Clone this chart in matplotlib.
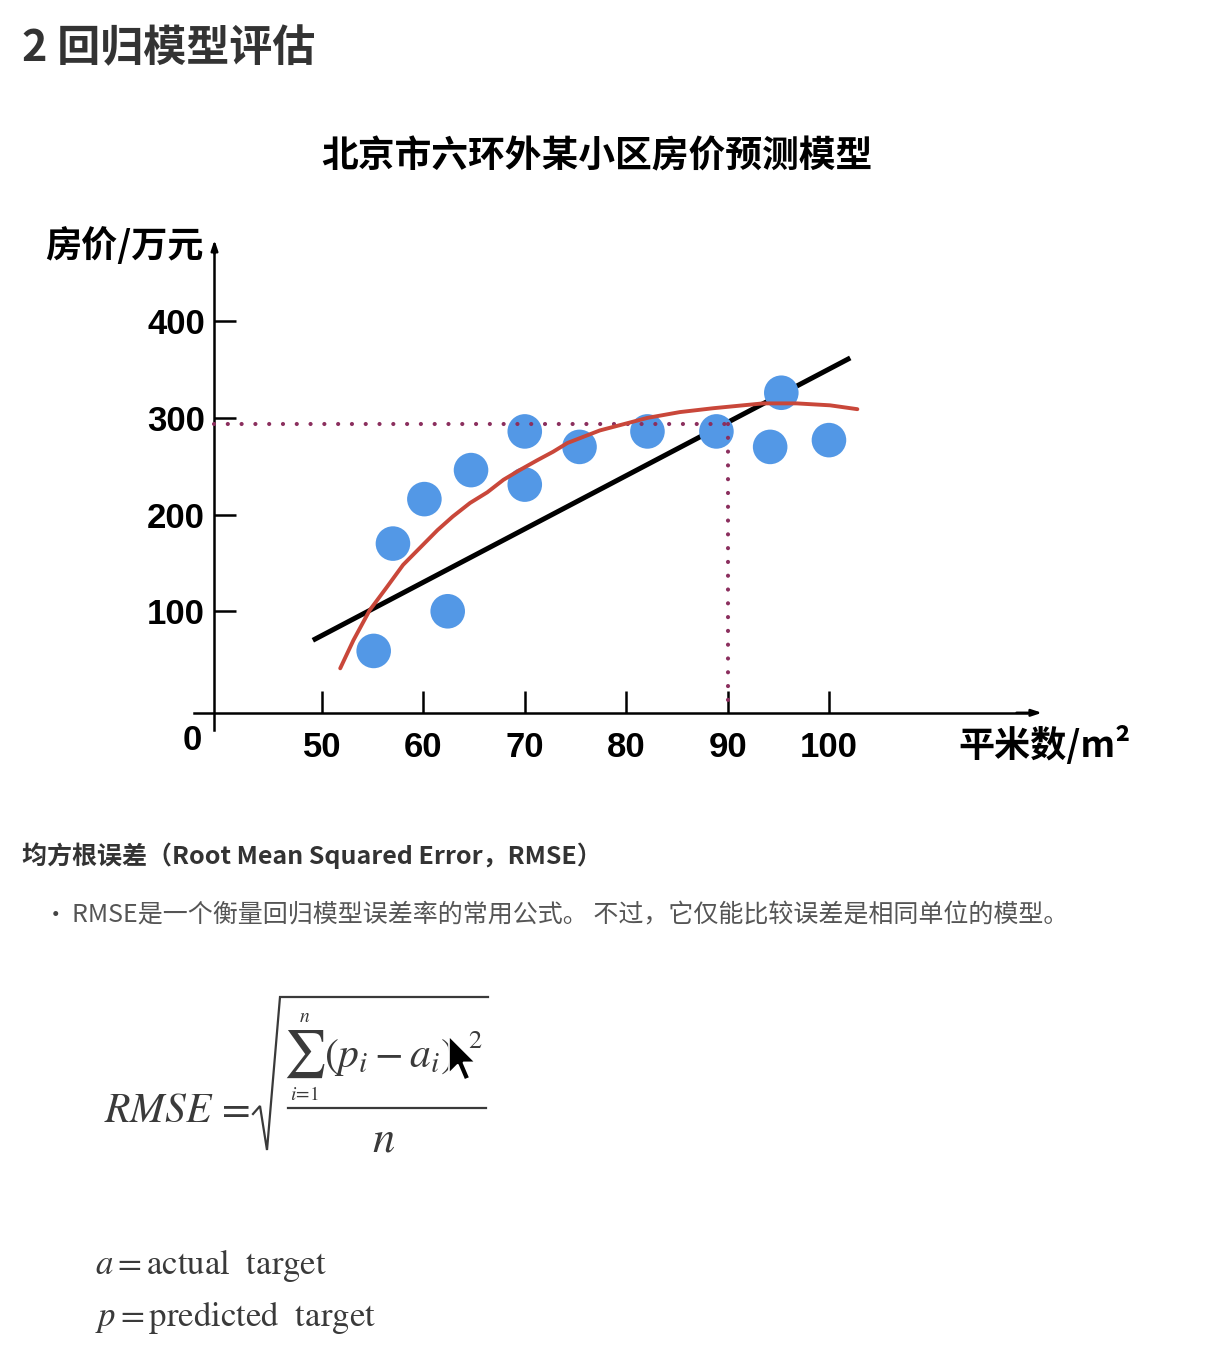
import matplotlib
matplotlib.use("Agg")
from matplotlib import pyplot as plt
from matplotlib.patches import Polygon
from matplotlib.lines import Line2D
import numpy as np

plt.rcParams['font.family'] = ['Noto Sans CJK SC', 'DejaVu Sans']
plt.rcParams['mathtext.fontset'] = 'stix'

# data
area = [55.1, 57.0, 60.1, 62.4, 64.7, 70.0, 70.0, 75.4, 82.1, 88.9, 94.2, 95.3, 100.0]
price = [59, 170, 216, 100, 246, 286, 231, 270, 286, 286, 270, 326, 277]

line_x = [49.1, 102.1]
line_y = [70, 362]

curve_x = [51.8, 53.1, 54.7, 56.4, 58.0, 59.7, 61.4, 62.9, 64.6, 66.3, 67.9, 69.5,
           71.2, 72.8, 74.2, 77.4, 82.1, 85.3, 88.6, 93.5, 96.8, 100.1, 102.8]
curve_y = [41, 70, 101, 125, 148, 166, 184, 198, 212, 223, 236, 246,
           256, 265, 274, 287, 300, 306, 310, 315, 315, 313, 309]

pred_x = 90
pred_y = 294

x_ticks = [50, 60, 70, 80, 90, 100]
y_ticks = [100, 200, 300, 400]

W, H = 1206, 1368
fig = plt.figure(figsize=(W / 100, H / 100), dpi=100)
fig.patch.set_facecolor('white')


def fx(px):
    return px / W


def fy(py):
    return 1 - py / H


ax = fig.add_axes([fx(150), fy(760), fx(1100) - fx(150), fy(230) - fy(760)])
ax.set_xlim(33.04, 126.73)
ax.set_ylim(-53.8, 494.3)
ax.patch.set_alpha(0)

x0, y0 = 39.4, -5
for s in ['top', 'right']:
    ax.spines[s].set_visible(False)
ax.spines['left'].set_position(('data', x0))
ax.spines['bottom'].set_position(('data', y0))
ax.spines['left'].set_bounds(-23, 478)
ax.spines['bottom'].set_bounds(37.4, 119.5)
ax.spines['left'].set_linewidth(1.8)
ax.spines['bottom'].set_linewidth(1.8)

ax.annotate('', xy=(x0, 484), xytext=(x0, 470),
            arrowprops=dict(arrowstyle='-|>,head_length=0.6,head_width=0.2',
                            color='black', lw=1.8, shrinkA=0, shrinkB=0))
ax.annotate('', xy=(121.0, y0), xytext=(118.5, y0),
            arrowprops=dict(arrowstyle='-|>,head_length=0.6,head_width=0.2',
                            color='black', lw=1.8, shrinkA=0, shrinkB=0))

ax.set_xticks(x_ticks)
ax.set_yticks(y_ticks)
ax.tick_params(axis='both', direction='in', length=16, width=1.8)
ax.tick_params(axis='x', pad=13)
ax.tick_params(axis='y', pad=7)
for lab in ax.get_xticklabels() + ax.get_yticklabels():
    lab.set_fontfamily('Liberation Sans')
    lab.set_fontweight('bold')
    lab.set_fontsize(25)

ax.text(38.2, -17, '0', ha='right', va='top', fontsize=25,
        fontfamily='Liberation Sans', fontweight='bold')

dot_style = dict(color='#8B2F5E', lw=3, linestyle=(0, (0.01, 3.3)),
                 dash_capstyle='round', zorder=4)
ax.plot([x0, pred_x], [pred_y, pred_y], **dot_style)
ax.plot([pred_x, pred_x], [pred_y, y0], **dot_style)

ax.plot(line_x, line_y, color='black', lw=3.6, solid_capstyle='butt', zorder=2)
ax.scatter(area, price, s=620, color='#5398E6', edgecolors='none', zorder=3)
ax.plot(curve_x, curve_y, color='#C9473A', lw=2.8, zorder=5,
        solid_joinstyle='round', solid_capstyle='round')

# titles and axis names
fig.text(fx(22), fy(48), '2 回归模型评估', fontsize=31, color='#333333',
         fontweight='bold', ha='left', va='center')
fig.text(fx(597), fy(157), '北京市六环外某小区房价预测模型', fontsize=26.5,
         fontweight='bold', ha='center', va='center')
fig.text(fx(45), fy(246), '房价/万元', fontsize=26, fontweight='bold',
         ha='left', va='center')
fig.text(fx(958), fy(745), '平米数/m²', fontsize=26, fontweight='bold',
         ha='left', va='center')

fig.text(fx(22), fy(856), '均方根误差（Root Mean Squared Error，RMSE）',
         fontsize=18, fontweight='bold', color='#333333', ha='left', va='center')
fig.text(fx(44), fy(915), '•', fontsize=17, color='#444444', ha='left', va='center')
fig.text(fx(72), fy(915), 'RMSE是一个衡量回归模型误差率的常用公式。 不过，它仅能比较误差是相同单位的模型。',
         fontsize=18, color='#555555', ha='left', va='center')

# formula, put together piece by piece
fc = '#3a3a3a'
fig.text(fx(104), fy(1110), r'$RMSE\,=$', fontsize=30, color=fc, ha='left', va='center')
fig.add_artist(Line2D([fx(p) for p in (253, 260, 267, 280, 488)],
                      [fy(p) for p in (1114, 1106, 1150, 997, 997)],
                      color=fc, lw=1.6, solid_joinstyle='miter'))
fig.text(fx(305), fy(1054), '∑', fontsize=34, fontfamily='STIXGeneral', color=fc,
         ha='center', va='center')
fig.text(fx(305), fy(1017), r'$n$', fontsize=14, color=fc, ha='center', va='center')
fig.text(fx(305), fy(1095), r'$i\!=\!1$', fontsize=14, color=fc, ha='center', va='center')
fig.text(fx(324), fy(1058), r'$(p_i-a_i)$', fontsize=30, color=fc, ha='left', va='center')
fig.text(fx(468), fy(1040), r'$2$', fontsize=19, color=fc, ha='left', va='center')
fig.add_artist(Line2D([fx(288), fx(486)], [fy(1108), fy(1108)], color=fc, lw=1.6))
fig.text(fx(384), fy(1138), r'$n$', fontsize=32, color=fc, ha='center', va='center')

fig.text(fx(95), fy(1266), r'$a = \mathrm{actual\ \ target}$', fontsize=25,
         color=fc, ha='left', va='center')
fig.text(fx(95), fy(1318), r'$p = \mathrm{predicted\ \ target}$', fontsize=25,
         color=fc, ha='left', va='center')

# mouse pointer over the formula
cur = np.array([[0, 0], [0, 17], [4, 13], [7, 20], [9.5, 19], [6.5, 12], [12, 12]]) * 2.2
cur_px = cur + [449, 1036]
fig.patches.append(Polygon([(fx(a), fy(b)) for a, b in cur_px], closed=True,
                           transform=fig.transFigure, facecolor='black',
                           edgecolor='white', lw=1.2, zorder=10))

fig.savefig('out.png', dpi=100)
